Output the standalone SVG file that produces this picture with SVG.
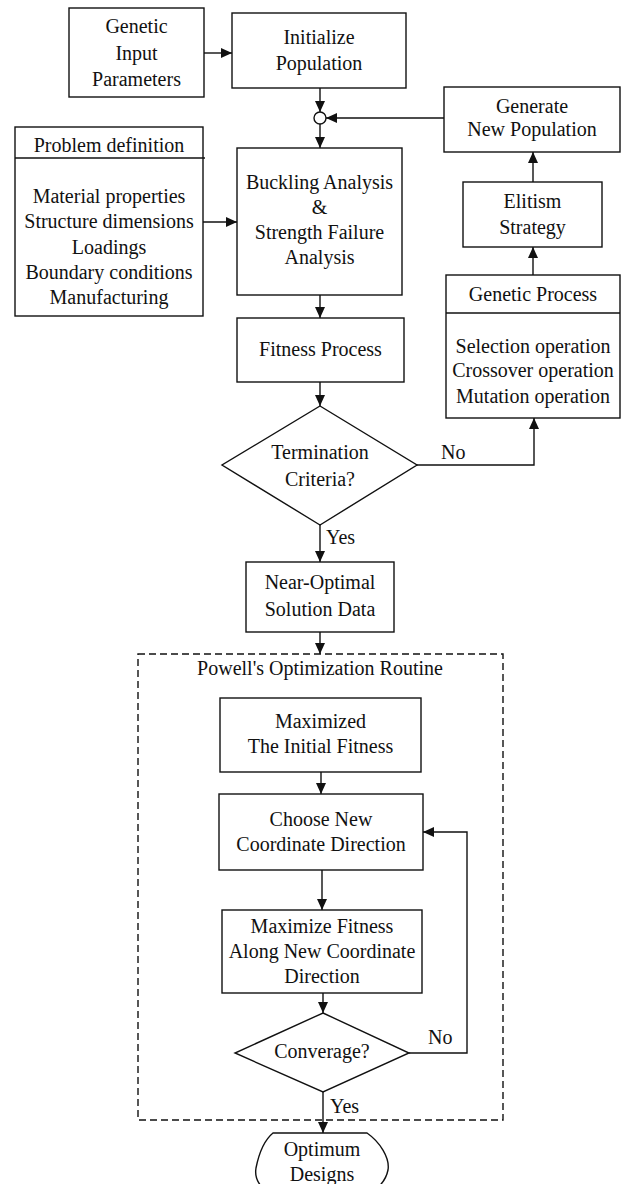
<svg xmlns="http://www.w3.org/2000/svg" width="621" height="1184" viewBox="0 0 621 1184">
<defs>
<marker id="ah" markerUnits="userSpaceOnUse" markerWidth="12" markerHeight="10" refX="11" refY="5" orient="auto">
<path d="M0,0 L11,5 L0,10 Z" fill="#111"/>
</marker>
<style>
.b{fill:#fff;stroke:#111;stroke-width:1.4}
.t{font-family:"Liberation Serif","Times New Roman",serif;font-size:20px;fill:#111;text-anchor:middle}
.l{font-family:"Liberation Serif","Times New Roman",serif;font-size:20px;fill:#111}
.c{fill:none;stroke:#111;stroke-width:1.4}
.a{fill:none;stroke:#111;stroke-width:1.4;marker-end:url(#ah)}
</style>
</defs>
<rect width="621" height="1184" fill="#fff"/>

<g id="connectors">
<line class="a" x1="204" y1="53" x2="232" y2="53"/>
<line class="a" x1="320" y1="88" x2="320" y2="112"/>
<line class="a" x1="320" y1="124" x2="320" y2="148"/>
<line class="a" x1="444" y1="118" x2="326" y2="118"/>
<line class="a" x1="203" y1="222" x2="237" y2="222"/>
<line class="a" x1="320" y1="295" x2="320" y2="318"/>
<line class="a" x1="320" y1="382" x2="320" y2="406"/>
<polyline class="a" points="417,465 534,465 534,418"/>
<line class="a" x1="533" y1="275" x2="533" y2="247"/>
<line class="a" x1="533" y1="182" x2="533" y2="152"/>
<line class="a" x1="320" y1="525" x2="320" y2="562"/>
<line class="a" x1="320" y1="632" x2="320" y2="654"/>
<line class="a" x1="321" y1="772" x2="321" y2="794"/>
<line class="a" x1="322" y1="870" x2="322" y2="910"/>
<line class="a" x1="323" y1="993" x2="323" y2="1013"/>
<polyline class="a" points="409,1053 467,1053 467,832 423,832"/>
<line class="a" x1="323" y1="1092" x2="323" y2="1133"/>
<text class="l" x="441" y="459">No</text>
<text class="l" x="326" y="544">Yes</text>
<text class="l" x="428" y="1044">No</text>
<text class="l" x="330" y="1113">Yes</text>
</g>

<g id="genetic-input">
<rect class="b" x="69" y="8" width="135" height="89"/>
<text class="t" x="136.5" y="33">Genetic</text>
<text class="t" x="136.5" y="60">Input</text>
<text class="t" x="136.5" y="86">Parameters</text>
</g>

<g id="initialize">
<rect class="b" x="232" y="13" width="174" height="75"/>
<text class="t" x="319" y="44">Initialize</text>
<text class="t" x="319" y="70">Population</text>
</g>

<g id="junction">
<circle class="b" cx="320" cy="118" r="6"/>
</g>

<g id="problem-definition">
<rect class="b" x="15" y="127" width="188" height="189"/>
<line class="c" x1="15" y1="158" x2="205" y2="158"/>
<text class="t" x="109" y="152">Problem definition</text>
<text class="t" x="109" y="203">Material properties</text>
<text class="t" x="109" y="228">Structure dimensions</text>
<text class="t" x="109" y="254">Loadings</text>
<text class="t" x="109" y="279">Boundary conditions</text>
<text class="t" x="109" y="304">Manufacturing</text>
</g>

<g id="buckling">
<rect class="b" x="237" y="148" width="165" height="147"/>
<text class="t" x="319.5" y="189">Buckling Analysis</text>
<text class="t" x="319.5" y="214">&amp;</text>
<text class="t" x="319.5" y="239">Strength Failure</text>
<text class="t" x="319.5" y="264">Analysis</text>
</g>

<g id="fitness">
<rect class="b" x="237" y="318" width="167" height="64"/>
<text class="t" x="320.5" y="356">Fitness Process</text>
</g>

<g id="termination">
<polygon class="b" points="320,406 417,465 320,525 222,465"/>
<text class="t" x="320" y="459">Termination</text>
<text class="t" x="320" y="486">Criteria?</text>
</g>

<g id="genetic-process">
<rect class="b" x="446" y="275" width="174" height="143"/>
<line class="c" x1="446" y1="313" x2="620" y2="313"/>
<text class="t" x="533" y="301">Genetic Process</text>
<text class="t" x="533" y="353">Selection operation</text>
<text class="t" x="533" y="377">Crossover operation</text>
<text class="t" x="533" y="403">Mutation operation</text>
</g>

<g id="elitism">
<rect class="b" x="463" y="182" width="139" height="65"/>
<text class="t" x="532.5" y="208">Elitism</text>
<text class="t" x="532.5" y="234">Strategy</text>
</g>

<g id="generate">
<rect class="b" x="444" y="87" width="176" height="65"/>
<text class="t" x="532" y="113">Generate</text>
<text class="t" x="532" y="136">New Population</text>
</g>

<g id="near-optimal">
<rect class="b" x="246" y="562" width="148" height="70"/>
<text class="t" x="320" y="589">Near-Optimal</text>
<text class="t" x="320" y="616">Solution Data</text>
</g>

<g id="powell">
<rect x="138" y="654" width="365" height="466" fill="none" stroke="#111" stroke-width="1.4" stroke-dasharray="7,4"/>
<text class="t" x="320" y="675">Powell's Optimization Routine</text>
</g>

<g id="maximized">
<rect class="b" x="220" y="698" width="201" height="74"/>
<text class="t" x="320.5" y="728">Maximized</text>
<text class="t" x="320.5" y="753">The Initial Fitness</text>
</g>

<g id="choose">
<rect class="b" x="219" y="794" width="204" height="76"/>
<text class="t" x="321" y="826">Choose New</text>
<text class="t" x="321" y="851">Coordinate Direction</text>
</g>

<g id="maximize-fitness">
<rect class="b" x="222" y="910" width="200" height="83"/>
<text class="t" x="322" y="933">Maximize Fitness</text>
<text class="t" x="322" y="958">Along New Coordinate</text>
<text class="t" x="322" y="983">Direction</text>
</g>

<g id="converage">
<polygon class="b" points="323,1013 409,1053 323,1092 235,1053"/>
<text class="t" x="322" y="1058">Converage?</text>
</g>

<g id="optimum">
<path class="b" d="M273,1133 H367 C380,1142 390,1158 388,1170 C386,1180 378,1188 372,1192 H268 C262,1188 254,1180 256,1168 C258,1158 262,1142 273,1133 Z"/>
<text class="t" x="322" y="1156">Optimum</text>
<text class="t" x="322" y="1181">Designs</text>
</g>
</svg>
